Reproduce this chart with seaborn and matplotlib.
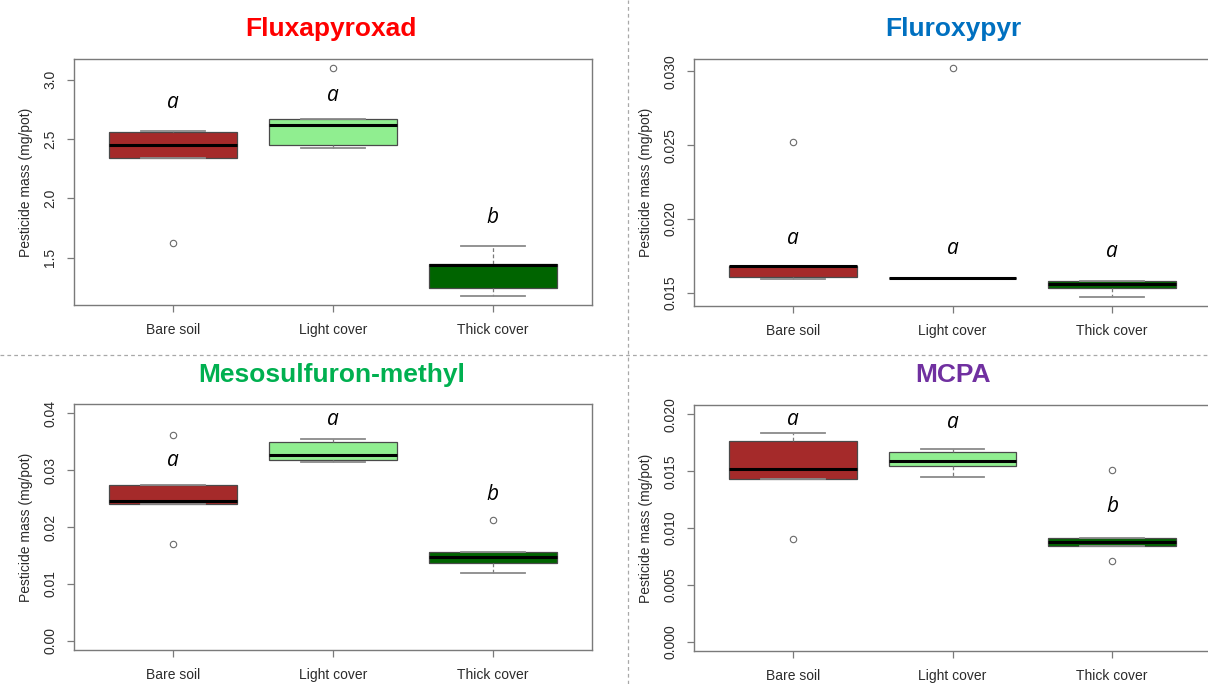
import numpy as np
import pandas as pd
import matplotlib
matplotlib.use("Agg")
import matplotlib.pyplot as plt
from matplotlib.lines import Line2D
import seaborn as sns

# ---------------------------------------------------------------------------
# Data: residual pesticide mass per pot (mg/pot), five pots per treatment
# ---------------------------------------------------------------------------
treatments = ["Bare soil", "Light cover", "Thick cover"]
box_colors = ["#A52A2A", "#90EE90", "#006400"]

flux_bare = [1.623, 2.339, 2.448, 2.558, 2.568]
flux_light = [2.423, 2.451, 2.622, 2.672, 3.095]
flux_thick = [1.175, 1.242, 1.440, 1.449, 1.595]

fluro_bare = [0.01597, 0.01610, 0.01680, 0.01681, 0.02520]
fluro_light = [0.01598, 0.01599, 0.01600, 0.01602, 0.03020]
fluro_thick = [0.01473, 0.01532, 0.01559, 0.01581, 0.01583]

meso_bare = [0.01711, 0.02406, 0.02452, 0.02744, 0.03620]
meso_light = [0.03147, 0.03182, 0.03270, 0.03503, 0.03556]
meso_thick = [0.01186, 0.01373, 0.01483, 0.01566, 0.02131]

mcpa_bare = [0.00909, 0.01434, 0.01516, 0.01762, 0.01833]
mcpa_light = [0.01454, 0.01545, 0.01593, 0.01672, 0.01698]
mcpa_thick = [0.00709, 0.00845, 0.00880, 0.00912, 0.01507]

# Compact letter display (post-hoc groups) and the height they are written at
flux_letters = ["a", "a", "b"]
flux_letter_y = [2.765, 2.818, 1.791]
fluro_letters = ["a", "a", "a"]
fluro_letter_y = [0.01831, 0.01764, 0.01745]
meso_letters = ["a", "a", "b"]
meso_letter_y = [0.03077, 0.0379, 0.02482]
mcpa_letters = ["a", "a", "b"]
mcpa_letter_y = [0.01906, 0.01877, 0.0114]

# y-axis ticks
flux_ticks = [1.5, 2.0, 2.5, 3.0]
flux_tick_labels = ["1.5", "2.0", "2.5", "3.0"]
fluro_ticks = [0.015, 0.020, 0.025, 0.030]
fluro_tick_labels = ["0.015", "0.020", "0.025", "0.030"]
meso_ticks = [0.00, 0.01, 0.02, 0.03, 0.04]
meso_tick_labels = ["0.00", "0.01", "0.02", "0.03", "0.04"]
mcpa_ticks = [0.000, 0.005, 0.010, 0.015, 0.020]
mcpa_tick_labels = ["0.000", "0.005", "0.010", "0.015", "0.020"]

# y-range to cover (None = data range)
flux_range = None
fluro_range = None
meso_range = (0.0, 0.04)
mcpa_range = (0.0, 0.02)

titles = ["Fluxapyroxad", "Fluroxypyr", "Mesosulfuron-methyl", "MCPA"]
title_colors = ["#FF0000", "#0070C0", "#00B050", "#7030A0"]
y_label = "Pesticide mass (mg/pot)"

# ---------------------------------------------------------------------------
W, H = 1208, 684
fig = plt.figure(figsize=(W / 100, H / 100), dpi=100)
fig.patch.set_facecolor("white")

TEXT = "#2b2b2b"
FRAME = "#7a7a7a"
BASE_FONT = ["Liberation Sans", "DejaVu Sans"]


def px_rect(left, top, right, bottom):
    return [left / W, 1 - bottom / H, (right - left) / W, (bottom - top) / H]


panels = [
    dict(groups=[flux_bare, flux_light, flux_thick], letters=flux_letters,
         letter_y=flux_letter_y, ticks=flux_ticks, tick_labels=flux_tick_labels,
         yrange=flux_range, rect=(74, 59.3, 592, 305.3), title_xy=(331, 36)),
    dict(groups=[fluro_bare, fluro_light, fluro_thick], letters=fluro_letters,
         letter_y=fluro_letter_y, ticks=fluro_ticks, tick_labels=fluro_tick_labels,
         yrange=fluro_range, rect=(694, 59.3, 1211, 306), title_xy=(953, 36)),
    dict(groups=[meso_bare, meso_light, meso_thick], letters=meso_letters,
         letter_y=meso_letter_y, ticks=meso_ticks, tick_labels=meso_tick_labels,
         yrange=meso_range, rect=(74, 404.3, 592, 650), title_xy=(332, 381.7)),
    dict(groups=[mcpa_bare, mcpa_light, mcpa_thick], letters=mcpa_letters,
         letter_y=mcpa_letter_y, ticks=mcpa_ticks, tick_labels=mcpa_tick_labels,
         yrange=mcpa_range, rect=(694, 405.3, 1211, 651), title_xy=(953, 382.5)),
]

for i, p in enumerate(panels):
    left, top, right, bottom = p["rect"]
    ax = fig.add_axes(px_rect(left, top, right, bottom))

    df = pd.DataFrame({
        "treatment": np.repeat(treatments, [len(g) for g in p["groups"]]),
        "mass": np.concatenate(p["groups"]),
    })

    sns.boxplot(
        data=df, x="treatment", y="mass", hue="treatment",
        order=treatments, hue_order=treatments, palette=box_colors,
        saturation=1, width=0.8, whis=1.5, linecolor="#4a4a4a",
        linewidth=0.9, legend=False, ax=ax,
        medianprops=dict(color="black", linewidth=2.2),
        whiskerprops=dict(color="#7a7a7a", linestyle=(0, (3, 2)), linewidth=0.9),
        capprops=dict(color="#8a8a8a", linewidth=1.3),
        flierprops=dict(marker="o", markerfacecolor="none",
                        markeredgecolor="#6a6a6a", markersize=4.6,
                        markeredgewidth=0.8),
    )

    # R-style axis extents: 4 % padding around the plotted range
    if p["yrange"] is None:
        lo, hi = float(df["mass"].min()), float(df["mass"].max())
    else:
        lo, hi = p["yrange"]
    pad = 0.04 * (hi - lo)
    ax.set_ylim(lo - pad, hi + pad)
    ax.set_xlim(-0.62, len(treatments) - 1 + 0.62)

    ax.set_yticks(p["ticks"], p["tick_labels"])
    ax.set_xticks(range(len(treatments)), treatments)
    ax.tick_params(axis="both", colors=FRAME, labelcolor=TEXT, length=5,
                   width=0.9, labelsize=10, direction="out")
    ax.tick_params(axis="y", pad=7)
    ax.tick_params(axis="x", pad=8)
    for lbl in ax.get_yticklabels():
        lbl.set_rotation(90)
        lbl.set_va("center")
        lbl.set_family(BASE_FONT)
    for lbl in ax.get_xticklabels():
        lbl.set_family(BASE_FONT)

    for s in ax.spines.values():
        s.set_color(FRAME)
        s.set_linewidth(1.0)
        s.set_visible(True)

    ax.set_xlabel("")
    ax.set_ylabel(y_label, fontsize=10, color=TEXT, family=BASE_FONT)
    ax.yaxis.set_label_coords(-(left - 33 - (0 if left < 600 else 620)) / (right - left), 0.5)
    ax.set_facecolor("white")
    ax.grid(False)

    # significance letters
    for k, (lab, yv) in enumerate(zip(p["letters"], p["letter_y"])):
        ax.text(k, yv, lab, ha="center", va="baseline", fontsize=15,
                style="italic", family=["Open Sans", "DejaVu Sans"], color="black")

    tx, ty = p["title_xy"]
    fig.text(tx / W, 1 - ty / H, titles[i], ha="center", va="baseline",
             fontsize=19, fontweight="bold", color=title_colors[i],
             family=BASE_FONT)

# dashed separators between the four panels
fig.add_artist(Line2D([627.5 / W, 627.5 / W], [0, 1], transform=fig.transFigure,
                      color="#a8a8a8", linewidth=0.9, linestyle=(0, (3, 2.5))))
fig.add_artist(Line2D([0, 1], [1 - 355 / H, 1 - 355 / H], transform=fig.transFigure,
                      color="#a8a8a8", linewidth=0.9, linestyle=(0, (3, 2.5))))

fig.savefig("out.png", dpi=100, facecolor="white")
